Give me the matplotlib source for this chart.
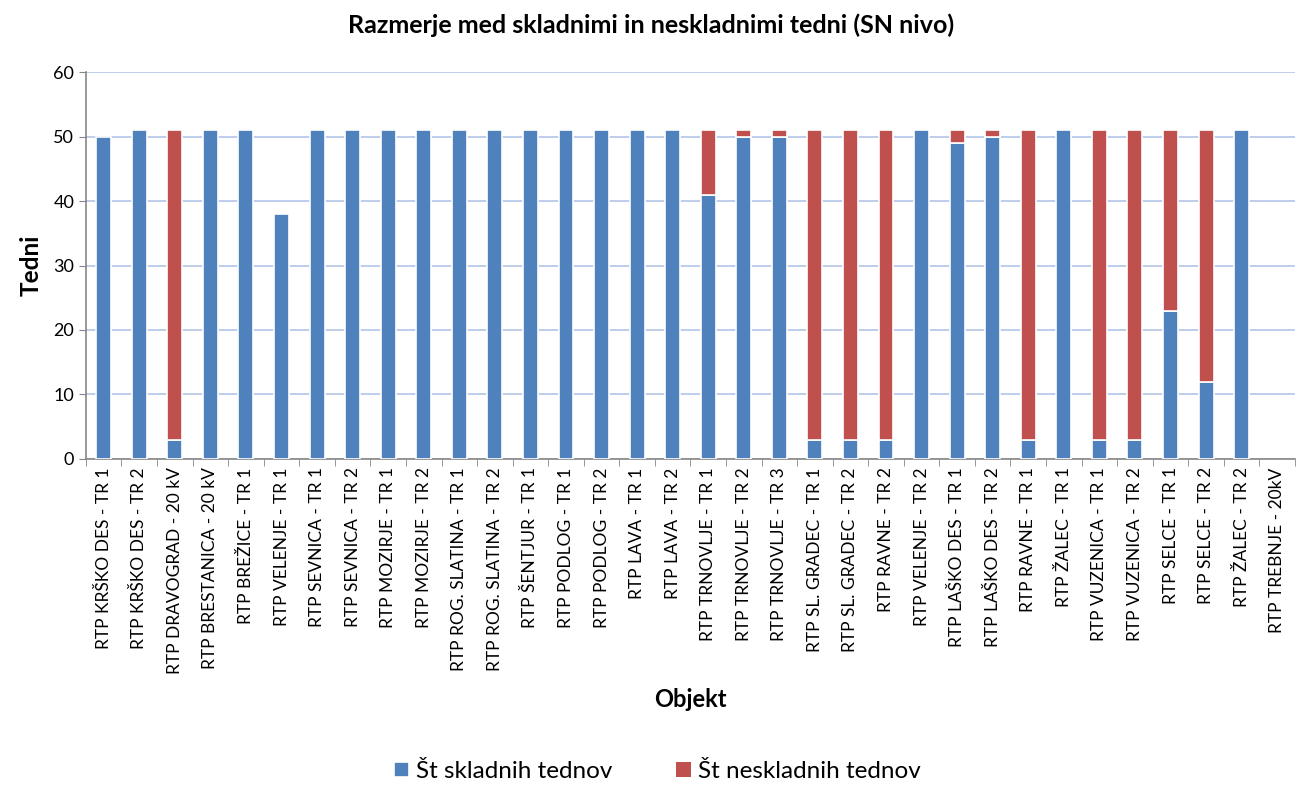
import numpy as np
import matplotlib
matplotlib.use('Agg')
import matplotlib.pyplot as plt

plt.rcParams['font.family'] = ['Lato', 'DejaVu Sans']

objekti = ['RTP KRŠKO DES - TR 1', 'RTP KRŠKO DES - TR 2', 'RTP DRAVOGRAD - 20 kV',
           'RTP BRESTANICA - 20 kV', 'RTP BREŽICE - TR 1', 'RTP VELENJE - TR 1',
           'RTP SEVNICA - TR 1', 'RTP SEVNICA - TR 2', 'RTP MOZIRJE - TR 1',
           'RTP MOZIRJE - TR 2', 'RTP ROG. SLATINA - TR 1', 'RTP ROG. SLATINA - TR 2',
           'RTP ŠENTJUR - TR 1', 'RTP PODLOG - TR 1', 'RTP PODLOG - TR 2',
           'RTP LAVA - TR 1', 'RTP LAVA - TR 2', 'RTP TRNOVLJE - TR 1',
           'RTP TRNOVLJE - TR 2', 'RTP TRNOVLJE - TR 3', 'RTP SL. GRADEC - TR 1',
           'RTP SL. GRADEC - TR 2', 'RTP RAVNE - TR 2', 'RTP VELENJE - TR 2',
           'RTP LAŠKO DES - TR 1', 'RTP LAŠKO DES - TR 2', 'RTP RAVNE - TR 1',
           'RTP ŽALEC - TR 1', 'RTP VUZENICA - TR 1', 'RTP VUZENICA - TR 2',
           'RTP SELCE - TR 1', 'RTP SELCE - TR 2', 'RTP ŽALEC - TR 2',
           'RTP TREBNJE - 20kV']
skladni = [50, 51, 3, 51, 51, 38, 51, 51, 51, 51, 51, 51, 51, 51, 51, 51, 51,
           41, 50, 50, 3, 3, 3, 51, 49, 50, 3, 51, 3, 3, 23, 12, 51, 0]
neskladni = [0, 0, 48, 0, 0, 0, 0, 0, 0, 0, 0, 0, 0, 0, 0, 0, 0,
             10, 1, 1, 48, 48, 48, 0, 2, 1, 48, 0, 48, 48, 28, 39, 0, 0]

modra = '#4F81BD'
rdeca = '#C0504D'

fig = plt.figure(figsize=(13.02, 7.96), dpi=100)
ax = fig.add_axes([0.066, 0.4234, 0.9286, 0.4861])

x = np.arange(len(objekti))
# brez robov pri praznih stolpcih
rob_s = ['white' if v > 0 else 'none' for v in skladni]
rob_n = ['white' if v > 0 else 'none' for v in neskladni]
ax.bar(x, skladni, width=0.42, color=modra, edgecolor=rob_s, linewidth=1.2,
       label='Št skladnih tednov', zorder=3)
ax.bar(x, neskladni, width=0.42, bottom=skladni, color=rdeca, edgecolor=rob_n,
       linewidth=1.2, label='Št neskladnih tednov', zorder=3)

ax.set_xlim(-0.5, len(objekti) - 0.5)
ax.set_ylim(0, 60)
ax.set_yticks(range(0, 61, 10))
ax.yaxis.grid(True, color='#B3C6E7', linewidth=1.2, zorder=0)
ax.set_axisbelow(True)

ax.set_xticks(x)
ax.set_xticklabels(objekti, rotation=90, fontsize=12.5)
ax.set_xticks(np.arange(-0.5, len(objekti)), minor=True)
ax.tick_params(axis='x', which='major', length=0, pad=6)
ax.tick_params(axis='x', which='minor', length=5, color='#868686')
ax.tick_params(axis='y', length=5, color='#868686', labelsize=13)

for s in ['top', 'right']:
    ax.spines[s].set_visible(False)
for s in ['left', 'bottom']:
    ax.spines[s].set_color('#868686')
    ax.spines[s].set_linewidth(1.2)

ax.set_ylabel('Tedni', fontsize=17.5, fontweight='bold', labelpad=8)
ax.set_xlabel('Objekt', fontsize=17, fontweight='bold', labelpad=10)
fig.text(0.5, 0.968, 'Razmerje med skladnimi in neskladnimi tedni (SN nivo)',
         ha='center', va='center', fontsize=18, fontweight='bold')

fig.legend(loc='lower center', bbox_to_anchor=(0.505, -0.01), ncol=2, frameon=False,
           fontsize=17.5, handlelength=0.6, handleheight=0.6, columnspacing=2.6,
           handletextpad=0.3)

fig.savefig('out.png', dpi=100)
